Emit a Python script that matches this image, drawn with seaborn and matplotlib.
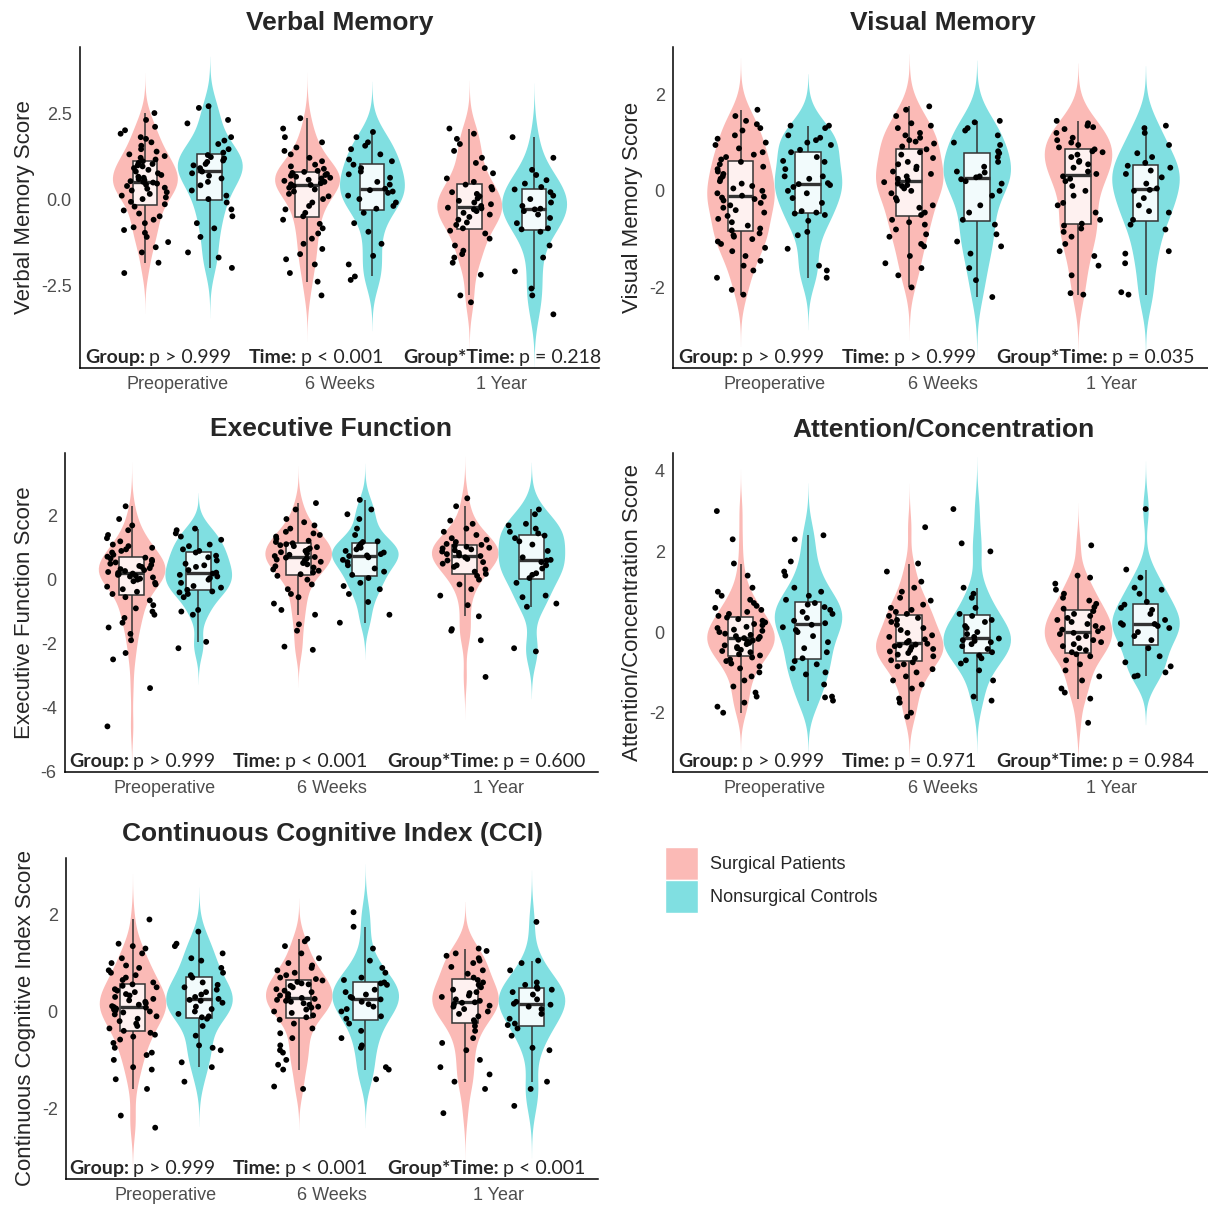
import numpy as np
import pandas as pd
import matplotlib
matplotlib.use("Agg")
import matplotlib.pyplot as plt
from matplotlib.patches import Patch
import seaborn as sns

times = ["Preoperative", "6 Weeks", "1 Year"]
groups = ["Surgical Patients", "Nonsurgical Controls"]

# Verbal Memory
vm_pre_s = [-2.15, -1.85, -1.55, -1.4, -1.25, -1.1, -0.98, -0.9, -0.82, -0.7, -0.6, -0.5, -0.42, -0.33, -0.22,
            -0.15, -0.08, 0.0, 0.05, 0.1, 0.15, 0.2, 0.25, 0.3, 0.33, 0.38, 0.42, 0.45, 0.48, 0.5,
            0.52, 0.55, 0.58, 0.62, 0.65, 0.7, 0.75, 0.8, 0.85, 0.9, 0.95, 0.98, 1.02, 1.05, 1.1,
            1.15, 1.2, 1.25, 1.3, 1.38, 1.45, 1.55, 1.65, 1.75, 1.8, 1.9, 2.0, 2.1, 2.3, 2.5]
vm_pre_c = [-2.0, -1.7, -1.55, -1.1, -0.85, -0.7, -0.5, -0.3, -0.1,
            0.0, 0.1, 0.25, 0.4, 0.5, 0.6, 0.68, 0.75, 0.8,
            0.82, 0.9, 0.98, 1.02, 1.08, 1.12, 1.18, 1.22, 1.28,
            1.35, 1.45, 1.6, 1.7, 1.8, 2.2, 2.3, 2.65, 2.7]
vm_6w_s = [-2.8, -2.4, -2.15, -1.9, -1.75, -1.6, -1.45, -1.3, -1.15, -1.0, -0.85, -0.72, -0.6,
           -0.5, -0.4, -0.3, -0.2, -0.1, 0.0, 0.08, 0.15, 0.22, 0.28, 0.33, 0.38, 0.41,
           0.43, 0.46, 0.5, 0.53, 0.56, 0.6, 0.62, 0.65, 0.68, 0.7, 0.73, 0.76, 0.79,
           0.82, 0.88, 0.95, 1.0, 1.1, 1.2, 1.3, 1.4, 1.5, 1.65, 1.8, 2.05, 2.35]
vm_6w_c = [-2.35, -2.25, -1.9, -1.65, -1.3, -0.95, -0.7, -0.4,
           -0.28, -0.2, -0.1, 0.0, 0.1, 0.18, 0.22, 0.26,
           0.3, 0.42, 0.5, 0.62, 0.72, 0.8, 0.9, 1.0,
           1.1, 1.15, 1.3, 1.45, 1.55, 1.65, 1.8, 1.95]
vm_1y_s = [-3.0, -2.8, -2.2, -1.85, -1.7, -1.6, -1.5, -1.35, -1.15, -1.0, -0.92,
           -0.85, -0.75, -0.68, -0.6, -0.52, -0.45, -0.4, -0.35, -0.3, -0.27, -0.25,
           -0.2, -0.15, -0.1, -0.05, 0.02, 0.08, 0.15, 0.2, 0.28, 0.35, 0.42,
           0.5, 0.6, 0.75, 0.9, 1.05, 1.2, 1.4, 1.6, 1.75, 1.9, 2.05]
vm_1y_c = [-3.35, -2.8, -2.6, -2.1, -1.7, -1.35, -0.95,
           -0.88, -0.85, -0.7, -0.55, -0.45, -0.35, -0.3,
           -0.28, -0.2, -0.1, 0.0, 0.1, 0.2, 0.28,
           0.35, 0.45, 0.55, 0.7, 0.85, 1.2, 1.8]

# Visual Memory
vis_pre_s = [-2.15, -2.05, -1.8, -1.65, -1.55, -1.45, -1.35, -1.25, -1.18, -1.1, -1.05, -1.0, -0.95, -0.92, -0.88,
             -0.82, -0.78, -0.72, -0.65, -0.58, -0.52, -0.45, -0.4, -0.35, -0.3, -0.25, -0.2, -0.17, -0.14, -0.12,
             -0.1, -0.05, 0.0, 0.05, 0.1, 0.15, 0.2, 0.25, 0.3, 0.35, 0.4, 0.45, 0.5, 0.55, 0.6,
             0.65, 0.7, 0.75, 0.8, 0.88, 0.95, 1.0, 1.08, 1.15, 1.25, 1.3, 1.38, 1.45, 1.55, 1.68]
vis_pre_c = [-1.8, -1.65, -1.55, -1.2, -0.92, -0.85, -0.62, -0.5, -0.47,
             -0.45, -0.42, -0.25, -0.15, -0.05, 0.0, 0.08, 0.12, 0.14,
             0.16, 0.25, 0.3, 0.3, 0.45, 0.6, 0.62, 0.7, 0.8,
             0.85, 0.95, 1.0, 1.05, 1.1, 1.15, 1.3, 1.35, 1.35]
vis_6w_s = [-2.0, -1.75, -1.6, -1.5, -1.35, -1.15, -1.1, -0.95, -0.9, -0.8, -0.7, -0.65, -0.6,
            -0.5, -0.45, -0.35, -0.3, -0.2, -0.15, -0.05, 0.0, 0.05, 0.1, 0.12, 0.15, 0.18,
            0.22, 0.25, 0.3, 0.35, 0.4, 0.45, 0.5, 0.55, 0.6, 0.68, 0.75, 0.8, 0.86,
            0.92, 0.98, 1.02, 1.05, 1.1, 1.15, 1.2, 1.3, 1.35, 1.4, 1.55, 1.68, 1.75]
vis_6w_c = [-2.2, -1.85, -1.6, -1.3, -1.15, -1.05, -0.9, -0.7,
            -0.6, -0.45, -0.3, -0.1, 0.0, 0.15, 0.2, 0.24,
            0.28, 0.3, 0.38, 0.4, 0.5, 0.6, 0.7, 0.78,
            0.82, 0.95, 1.0, 1.15, 1.25, 1.3, 1.42, 1.45]
vis_1y_s = [-2.15, -2.12, -1.75, -1.55, -1.35, -1.25, -1.1, -0.95, -0.85, -0.78, -0.72,
            -0.68, -0.6, -0.45, -0.3, -0.25, -0.1, 0.0, 0.1, 0.2, 0.25, 0.3,
            0.35, 0.4, 0.48, 0.55, 0.6, 0.62, 0.7, 0.75, 0.8, 0.82, 0.86,
            0.9, 0.95, 1.0, 1.05, 1.1, 1.2, 1.28, 1.32, 1.35, 1.4, 1.45]
vis_1y_c = [-2.15, -2.1, -1.5, -1.3, -1.25, -0.8, -0.7,
            -0.6, -0.45, -0.42, -0.3, -0.15, 0.0, 0.02,
            0.05, 0.15, 0.28, 0.35, 0.42, 0.48, 0.52,
            0.58, 0.7, 0.78, 0.95, 1.2, 1.3, 1.35]

# Executive Function
ef_pre_s = [-4.6, -3.4, -2.5, -2.3, -1.9, -1.7, -1.5, -1.35, -1.2, -1.1, -1.0, -0.9, -0.8, -0.65, -0.55,
            -0.45, -0.38, -0.3, -0.22, -0.15, -0.1, -0.05, 0.0, 0.03, 0.07, 0.1, 0.12, 0.15, 0.17, 0.19,
            0.21, 0.24, 0.27, 0.3, 0.33, 0.36, 0.4, 0.43, 0.46, 0.5, 0.54, 0.58, 0.62, 0.66, 0.69,
            0.72, 0.78, 0.85, 0.9, 0.95, 1.0, 1.05, 1.1, 1.2, 1.3, 1.4, 1.55, 1.7, 1.9, 2.3]
ef_pre_c = [-2.15, -1.95, -1.1, -1.0, -0.95, -0.55, -0.45, -0.4, -0.37,
            -0.32, -0.25, -0.2, -0.1, 0.0, 0.05, 0.1, 0.15, 0.19,
            0.22, 0.3, 0.4, 0.45, 0.5, 0.6, 0.7, 0.75, 0.85,
            0.9, 0.95, 1.05, 1.1, 1.25, 1.35, 1.45, 1.55, 1.6]
ef_6w_s = [-2.2, -2.1, -1.6, -1.4, -1.1, -0.95, -0.75, -0.55, -0.45, -0.3, -0.15, 0.0, 0.12,
           0.17, 0.22, 0.28, 0.32, 0.38, 0.42, 0.48, 0.52, 0.56, 0.6, 0.63, 0.66, 0.69,
           0.71, 0.74, 0.78, 0.82, 0.86, 0.9, 0.94, 0.98, 1.02, 1.05, 1.08, 1.11, 1.14,
           1.18, 1.22, 1.28, 1.35, 1.4, 1.45, 1.5, 1.6, 1.7, 1.8, 1.9, 2.2, 2.4]
ef_6w_c = [-1.35, -1.1, -0.7, -0.45, -0.3, -0.2, -0.1, 0.05,
           0.15, 0.25, 0.35, 0.45, 0.55, 0.62, 0.7, 0.74,
           0.76, 0.8, 0.85, 0.9, 0.95, 1.0, 1.05, 1.12,
           1.18, 1.2, 1.4, 1.6, 1.9, 2.05, 2.2, 2.5]
ef_1y_s = [-3.05, -1.9, -1.6, -1.55, -1.15, -0.8, -0.5, -0.3, -0.15, 0.0, 0.12,
           0.18, 0.25, 0.32, 0.4, 0.45, 0.5, 0.55, 0.6, 0.65, 0.7, 0.74,
           0.76, 0.8, 0.84, 0.88, 0.92, 0.95, 0.98, 1.0, 1.03, 1.06, 1.09,
           1.12, 1.18, 1.25, 1.3, 1.4, 1.5, 1.6, 1.75, 1.85, 2.3, 2.55]
ef_1y_c = [-2.25, -2.15, -0.85, -0.75, -0.55, -0.5, -0.1,
           0.05, 0.15, 0.2, 0.35, 0.45, 0.55, 0.6,
           0.62, 0.7, 0.9, 1.1, 1.2, 1.3, 1.38,
           1.45, 1.5, 1.6, 1.7, 1.75, 2.05, 2.2]

# Attention/Concentration
at_pre_s = [-2.0, -1.85, -1.75, -1.6, -1.5, -1.35, -1.2, -1.1, -1.0, -0.9, -0.85, -0.78, -0.72, -0.68, -0.63,
            -0.58, -0.55, -0.5, -0.47, -0.44, -0.4, -0.37, -0.33, -0.3, -0.27, -0.24, -0.21, -0.19, -0.17, -0.15,
            -0.12, -0.1, -0.07, -0.04, 0.0, 0.03, 0.06, 0.1, 0.13, 0.17, 0.2, 0.24, 0.28, 0.32, 0.36,
            0.4, 0.45, 0.5, 0.55, 0.6, 0.65, 0.72, 0.8, 0.9, 1.0, 1.1, 1.4, 1.7, 2.3, 3.0]
at_pre_c = [-1.7, -1.62, -1.6, -1.3, -1.05, -1.0, -0.9, -0.8, -0.72,
            -0.65, -0.5, -0.4, -0.25, -0.1, 0.0, 0.05, 0.12, 0.18,
            0.22, 0.28, 0.35, 0.45, 0.5, 0.55, 0.62, 0.68, 0.72,
            0.8, 0.9, 1.0, 1.1, 1.4, 1.5, 1.75, 2.3, 2.4]
at_6w_s = [-2.1, -2.0, -1.75, -1.65, -1.4, -1.3, -1.2, -1.1, -1.0, -0.92, -0.85, -0.8, -0.75,
           -0.7, -0.65, -0.6, -0.56, -0.52, -0.48, -0.45, -0.42, -0.38, -0.35, -0.33, -0.31, -0.29,
           -0.26, -0.22, -0.18, -0.12, -0.08, -0.02, 0.05, 0.1, 0.18, 0.25, 0.3, 0.35, 0.4,
           0.45, 0.5, 0.55, 0.6, 0.68, 0.78, 0.85, 1.0, 1.1, 1.25, 1.5, 1.7, 2.6]
at_6w_c = [-1.7, -1.6, -1.2, -0.95, -0.78, -0.7, -0.65, -0.58,
           -0.5, -0.42, -0.35, -0.3, -0.25, -0.22, -0.2, -0.16,
           -0.12, -0.05, 0.0, 0.1, 0.15, 0.25, 0.3, 0.4,
           0.45, 0.6, 0.85, 0.95, 1.1, 2.0, 2.2, 3.05]
at_1y_s = [-2.25, -1.65, -1.5, -1.4, -1.2, -1.1, -0.95, -0.8, -0.7, -0.6, -0.55,
           -0.5, -0.45, -0.4, -0.35, -0.3, -0.25, -0.2, -0.15, -0.1, -0.05, -0.02,
           0.02, 0.06, 0.1, 0.15, 0.2, 0.25, 0.3, 0.35, 0.4, 0.45, 0.52,
           0.58, 0.62, 0.7, 0.78, 0.85, 0.95, 1.05, 1.2, 1.35, 1.4, 2.15]
at_1y_c = [-1.1, -1.08, -1.0, -0.85, -0.75, -0.6, -0.4,
           -0.3, -0.2, -0.1, 0.0, 0.1, 0.15, 0.18,
           0.2, 0.22, 0.3, 0.45, 0.55, 0.6, 0.68,
           0.75, 0.95, 1.05, 1.1, 1.35, 1.55, 3.05]

# Continuous Cognitive Index
cci_pre_s = [-2.4, -2.15, -1.6, -1.4, -1.2, -1.15, -1.0, -0.9, -0.85, -0.75, -0.65, -0.58, -0.52, -0.48, -0.44,
             -0.4, -0.35, -0.3, -0.25, -0.2, -0.15, -0.1, -0.06, -0.02, 0.0, 0.02, 0.04, 0.06, 0.08, 0.09,
             0.11, 0.14, 0.17, 0.2, 0.23, 0.26, 0.3, 0.33, 0.36, 0.4, 0.43, 0.46, 0.5, 0.53, 0.56,
             0.6, 0.65, 0.7, 0.75, 0.8, 0.85, 0.9, 0.95, 1.0, 1.1, 1.2, 1.3, 1.35, 1.4, 1.9]
cci_pre_c = [-1.45, -1.15, -1.05, -0.8, -0.75, -0.7, -0.5, -0.3, -0.15,
             -0.12, -0.1, -0.05, 0.0, 0.05, 0.1, 0.18, 0.22, 0.24,
             0.26, 0.3, 0.35, 0.4, 0.45, 0.5, 0.55, 0.6, 0.7,
             0.75, 0.8, 0.9, 1.05, 1.1, 1.2, 1.35, 1.4, 1.65]
cci_6w_s = [-1.6, -1.55, -1.2, -1.1, -1.0, -0.85, -0.8, -0.7, -0.55, -0.45, -0.35, -0.25, -0.17,
            -0.12, -0.08, -0.03, 0.0, 0.04, 0.08, 0.1, 0.14, 0.17, 0.2, 0.22, 0.24, 0.26,
            0.28, 0.3, 0.33, 0.36, 0.4, 0.43, 0.46, 0.5, 0.53, 0.56, 0.58, 0.61, 0.64,
            0.67, 0.7, 0.75, 0.8, 0.85, 0.9, 0.95, 1.0, 1.1, 1.2, 1.35, 1.45, 1.5]
cci_6w_c = [-1.4, -1.2, -1.15, -0.75, -0.7, -0.55, -0.4, -0.25,
            -0.15, -0.1, 0.0, 0.05, 0.1, 0.15, 0.2, 0.25,
            0.28, 0.3, 0.35, 0.4, 0.45, 0.55, 0.58, 0.6,
            0.65, 0.7, 0.8, 0.9, 1.05, 1.3, 1.75, 2.05]
cci_1y_s = [-2.1, -1.6, -1.45, -1.3, -1.15, -1.0, -0.8, -0.65, -0.55, -0.4, -0.3,
            -0.22, -0.18, -0.1, -0.05, 0.0, 0.05, 0.1, 0.12, 0.15, 0.18, 0.19,
            0.22, 0.25, 0.3, 0.33, 0.38, 0.4, 0.45, 0.5, 0.55, 0.6, 0.65,
            0.7, 0.78, 0.85, 0.92, 1.0, 1.05, 1.1, 1.15, 1.2, 1.25, 1.3]
cci_1y_c = [-1.95, -1.6, -1.45, -0.8, -0.75, -0.5, -0.35,
            -0.28, -0.25, -0.15, -0.05, 0.05, 0.1, 0.14,
            0.16, 0.2, 0.25, 0.35, 0.4, 0.45, 0.47,
            0.5, 0.55, 0.6, 0.85, 1.0, 1.05, 1.85]

vm_p = ["p > 0.999", "p < 0.001", "p = 0.218"]
vis_p = ["p > 0.999", "p > 0.999", "p = 0.035"]
ef_p = ["p > 0.999", "p < 0.001", "p = 0.600"]
at_p = ["p > 0.999", "p = 0.971", "p = 0.984"]
cci_p = ["p > 0.999", "p < 0.001", "p < 0.001"]
effect_labels = ["Group:", "Time:", "Group*Time:"]

# box = panel edges in pixels (left, top, right, bottom); ann = start of p-value line
panels = [
    dict(title="Verbal Memory", ylabel="Verbal Memory Score",
         data=[vm_pre_s, vm_pre_c, vm_6w_s, vm_6w_c, vm_1y_s, vm_1y_c], p=vm_p,
         ticks=[-2.5, 0, 2.5], ticklabels=["-2.5", "0.0", "2.5"], ylim=(-4.91, 4.42),
         box=(80, 47, 599, 368), ann=5),
    dict(title="Visual Memory", ylabel="Visual Memory Score",
         data=[vis_pre_s, vis_pre_c, vis_6w_s, vis_6w_c, vis_1y_s, vis_1y_c], p=vis_p,
         ticks=[-2, 0, 2], ticklabels=["-2", "0", "2"], ylim=(-3.67, 2.98),
         box=(673, 47, 1213, 368), ann=5),
    dict(title="Executive Function", ylabel="Executive Function Score",
         data=[ef_pre_s, ef_pre_c, ef_6w_s, ef_6w_c, ef_1y_s, ef_1y_c], p=ef_p,
         ticks=[-6, -4, -2, 0, 2], ticklabels=["-6", "-4", "-2", "0", "2"], ylim=(-6.03, 3.97),
         box=(65, 453, 598, 772), ann=4),
    dict(title="Attention/Concentration", ylabel="Attention/Concentration Score",
         data=[at_pre_s, at_pre_c, at_6w_s, at_6w_c, at_1y_s, at_1y_c], p=at_p,
         ticks=[-2, 0, 2, 4], ticklabels=["-2", "0", "2", "4"], ylim=(-3.47, 4.44),
         box=(673, 453, 1213, 772), ann=5),
    dict(title="Continuous Cognitive Index (CCI)", ylabel="Continuous Cognitive Index Score",
         data=[cci_pre_s, cci_pre_c, cci_6w_s, cci_6w_c, cci_1y_s, cci_1y_c], p=cci_p,
         ticks=[-2, 0, 2], ticklabels=["-2", "0", "2"], ylim=(-3.46, 3.17),
         box=(66, 858, 598, 1179), ann=3),
]

vio_pal = {"Surgical Patients": "#FBBAB6", "Nonsurgical Controls": "#80DFE1"}
box_pal = {"Surgical Patients": "#FEF1F0", "Nonsurgical Controls": "#F2FBFC"}
dot_pal = {"Surgical Patients": "black", "Nonsurgical Controls": "black"}

sns.set_style("white")
plt.rcParams["font.family"] = ["Liberation Sans", "DejaVu Sans"]
plt.rcParams["axes.unicode_minus"] = False

W, H = 1208, 1206
fig = plt.figure(figsize=(W / 100, H / 100), dpi=100)
np.random.seed(7)


def long_df(lists):
    rows = []
    for i, t in enumerate(times):
        for j, g in enumerate(groups):
            for v in lists[2 * i + j]:
                rows.append((t, g, v))
    return pd.DataFrame(rows, columns=["time", "group", "score"])


for p in panels:
    l, t, r, b = p["box"]
    ax = fig.add_axes([l / W, 1 - b / H, (r - l) / W, (b - t) / H])
    df = long_df(p["data"])
    kw = dict(data=df, x="time", y="score", hue="group", order=times, hue_order=groups, ax=ax)

    sns.violinplot(**kw, palette=vio_pal, width=0.8, cut=3, inner=None, linewidth=0,
                   bw_method="silverman", bw_adjust=0.8, density_norm="width",
                   saturation=1, legend=False)
    sns.boxplot(**kw, palette=box_pal, width=0.8, gap=0.62, linecolor="#333333", linewidth=1.1,
                showfliers=False, showcaps=False, medianprops={"linewidth": 2.4},
                saturation=1, legend=False)
    sns.stripplot(**kw, palette=dot_pal, dodge=True, jitter=0.3, size=4.2, linewidth=0,
                  legend=False, zorder=5)

    ax.set_xlim(-0.6, 2.6)
    ax.set_ylim(*p["ylim"])
    ax.set_yticks(p["ticks"])
    ax.set_yticklabels(p["ticklabels"])
    ax.set_xlabel("")
    ax.set_ylabel(p["ylabel"], fontsize=16, labelpad=4)
    ax.set_title(p["title"], fontsize=19, fontweight="bold", pad=12)
    for s in ["top", "right"]:
        ax.spines[s].set_visible(False)
    for s in ["left", "bottom"]:
        ax.spines[s].set_color("black")
        ax.spines[s].set_linewidth(1.1)
    ax.tick_params(length=3, width=0.8, color="#333333", labelcolor="#4D4D4D",
                   labelsize=13, pad=3)

    # effect p-values along the bottom of the panel
    seg_px = [0, 164, 318]
    for k in range(3):
        x0 = (p["ann"] + seg_px[k]) / (r - l)
        lab = ax.annotate(effect_labels[k], xy=(x0, 0), xycoords="axes fraction",
                          xytext=(0, 3.6), textcoords="offset points", fontsize=14,
                          fontweight="bold", family="Lato", va="baseline", ha="left",
                          annotation_clip=False, zorder=10)
        ax.annotate(p["p"][k], xy=(1, 0), xycoords=(lab, "axes fraction"),
                    xytext=(3, 3.6), textcoords="offset points", fontsize=14,
                    family="Lato", va="baseline", ha="left", annotation_clip=False, zorder=10)

handles = [Patch(facecolor=vio_pal[g], edgecolor="white", label=g) for g in groups]
fig.legend(handles=handles, loc="upper left", bbox_to_anchor=(665 / W, 1 - 847 / H),
           frameon=False, fontsize=13, handlelength=1.8, handleheight=2.44,
           handletextpad=0.7, labelspacing=0.02, borderpad=0, borderaxespad=0)

fig.savefig("out.png", dpi=100)
